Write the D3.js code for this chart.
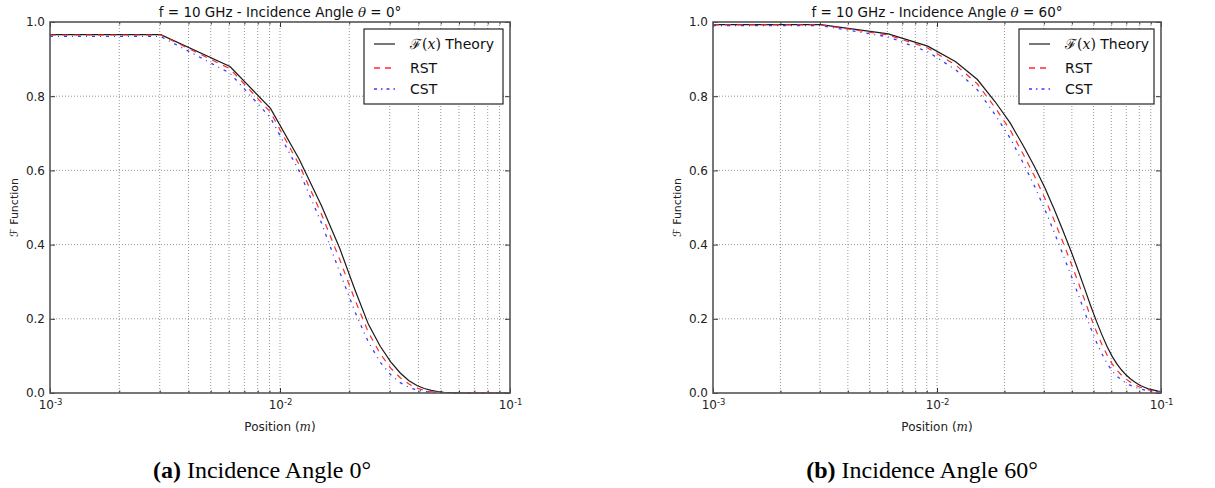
<!DOCTYPE html>
<html><head><meta charset="utf-8">
<script src="https://cdn.jsdelivr.net/npm/d3@7"></script>
<style>body{margin:0;background:#fff} svg{display:block}</style></head>
<body>
<svg id="c" width="1215" height="488"></svg>
<script>
// ---------------- data ----------------
const positions = [0.001, 0.00303, 0.00606, 0.00909, 0.01212, 0.01515, 0.01818, 0.02121, 0.02424, 0.02727, 0.0303, 0.03333, 0.03636, 0.03939, 0.04242, 0.04545, 0.04848, 0.05152, 0.05455, 0.05758, 0.06061, 0.06364, 0.06667, 0.0697, 0.07273, 0.07576, 0.07879, 0.08182, 0.08485, 0.08788, 0.09091, 0.09394, 0.09697, 0.1];

const theory0 = [0.966, 0.966, 0.880, 0.767, 0.630, 0.505, 0.390, 0.277, 0.185, 0.126, 0.084, 0.054, 0.033, 0.020, 0.012, 0.007, 0.004, 0.002, 0.001, 0.001, 0, 0, 0, 0, 0, 0, 0, 0, 0, 0, 0, 0, 0, 0];
const rst0    = [0.965, 0.965, 0.874, 0.757, 0.615, 0.482, 0.360, 0.250, 0.163, 0.106, 0.067, 0.041, 0.024, 0.013, 0.007, 0.004, 0.002, 0.001, 0.001, 0, 0, 0, 0, 0, 0, 0, 0, 0, 0, 0, 0, 0, 0, 0];
const cst0    = [0.961, 0.961, 0.862, 0.742, 0.598, 0.458, 0.326, 0.218, 0.137, 0.083, 0.049, 0.028, 0.015, 0.008, 0.004, 0.002, 0.001, 0.001, 0, 0, 0, 0, 0, 0, 0, 0, 0, 0, 0, 0, 0, 0, 0, 0];

const theory60 = [0.993, 0.993, 0.968, 0.935, 0.893, 0.845, 0.785, 0.728, 0.667, 0.610, 0.553, 0.496, 0.440, 0.387, 0.335, 0.284, 0.236, 0.193, 0.156, 0.124, 0.098, 0.078, 0.062, 0.049, 0.039, 0.031, 0.024, 0.019, 0.015, 0.011, 0.009, 0.007, 0.005, 0.004];
const rst60    = [0.992, 0.992, 0.965, 0.930, 0.884, 0.833, 0.769, 0.709, 0.644, 0.584, 0.525, 0.466, 0.409, 0.355, 0.303, 0.253, 0.206, 0.165, 0.130, 0.101, 0.078, 0.061, 0.048, 0.038, 0.030, 0.024, 0.018, 0.014, 0.011, 0.008, 0.007, 0.005, 0.004, 0.003];
const cst60    = [0.990, 0.990, 0.960, 0.920, 0.871, 0.817, 0.750, 0.687, 0.620, 0.557, 0.495, 0.434, 0.376, 0.322, 0.270, 0.221, 0.176, 0.137, 0.105, 0.079, 0.059, 0.045, 0.035, 0.027, 0.021, 0.017, 0.013, 0.010, 0.008, 0.006, 0.005, 0.004, 0.003, 0.002];

const xMajor = [0.001, 0.01, 0.1];
const xMajorExp = ["-3", "-2", "-1"];
const yTicks = [0, 0.2, 0.4, 0.6, 0.8, 1.0];
const seriesNames = ["Theory", "RST", "CST"];
const titles = ["0°", "60°"];
const captions = [["(a)", " Incidence Angle 0°"], ["(b)", " Incidence Angle 60°"]];

// ---------------- drawing ----------------
const svg = d3.select('#c');
const SANS = "'DejaVu Sans', sans-serif";
const SERIF = "'Liberation Serif', 'DejaVu Serif', serif";
const TOP = 22, BOTTOM = 393;

const styles = [
  {stroke: '#1a1a1a', dash: null, width: 1.2},
  {stroke: '#ff2a2a', dash: '6,6', width: 1.2},
  {stroke: '#3a3aff', dash: '3,5,1,5', width: 1.3}
];

function panel(cfg) {
  const x = d3.scaleLog().domain([1e-3, 1e-1]).range([cfg.L, cfg.R]);
  const y = d3.scaleLinear().domain([0, 1]).range([BOTTOM, TOP]);
  const g = svg.append('g');

  const minor = [];
  [1e-3, 1e-2].forEach(e => { for (let k = 2; k <= 9; k++) minor.push(k * e); });
  const gridX = minor.concat([0.01]);

  // grid
  g.append('g').selectAll('line').data(gridX).join('line')
    .attr('x1', d => x(d)).attr('x2', d => x(d))
    .attr('y1', TOP).attr('y2', BOTTOM)
    .attr('stroke', '#8a8a8a').attr('stroke-width', 0.9).attr('stroke-dasharray', '1,2');
  g.append('g').selectAll('line').data(yTicks.slice(1, -1)).join('line')
    .attr('x1', cfg.L).attr('x2', cfg.R)
    .attr('y1', d => y(d)).attr('y2', d => y(d))
    .attr('stroke', '#8a8a8a').attr('stroke-width', 0.9).attr('stroke-dasharray', '1,2');

  // lines
  const sets = [cfg.t, cfg.r, cfg.c];
  sets.forEach((vals, i) => {
    const line = d3.line().x((d, j) => x(positions[j])).y(d => y(d));
    g.append('path').datum(vals).attr('d', line)
      .attr('fill', 'none').attr('stroke', styles[i].stroke)
      .attr('stroke-width', styles[i].width)
      .attr('stroke-dasharray', styles[i].dash);
  });

  function styleAxis(sel) {
    sel.select('.domain').remove();
    sel.selectAll('.tick line').attr('stroke', '#333');
    sel.selectAll('text').attr('font-family', SANS).attr('font-size', 12).attr('fill', '#222');
  }
  const bottom = g.append('g').attr('transform', `translate(0,${BOTTOM})`)
    .call(d3.axisBottom(x).tickValues(xMajor).tickSize(-5).tickPadding(7).tickFormat(() => ''))
    .call(styleAxis);
  bottom.selectAll('.tick text').each(function(d, i) {
    const t = d3.select(this);
    t.text('');
    t.append('tspan').text('10');
    t.append('tspan').attr('dy', '-0.45em').attr('font-size', 8.5).text(xMajorExp[i]);
  });
  g.append('g').attr('transform', `translate(0,${BOTTOM})`)
    .call(d3.axisBottom(x).tickValues(minor).tickSize(-2.5).tickFormat(() => '')).call(styleAxis);
  g.append('g').attr('transform', `translate(0,${TOP})`)
    .call(d3.axisTop(x).tickValues(xMajor).tickSize(-5).tickFormat(() => '')).call(styleAxis);
  g.append('g').attr('transform', `translate(0,${TOP})`)
    .call(d3.axisTop(x).tickValues(minor).tickSize(-2.5).tickFormat(() => '')).call(styleAxis);
  g.append('g').attr('transform', `translate(${cfg.L},0)`)
    .call(d3.axisLeft(y).tickValues(yTicks).tickSize(-5).tickPadding(5).tickFormat(d3.format('.1f')))
    .call(styleAxis);
  g.append('g').attr('transform', `translate(${cfg.R},0)`)
    .call(d3.axisRight(y).tickValues(yTicks).tickSize(-5).tickFormat(() => '')).call(styleAxis);

  // frame
  g.append('rect').attr('x', cfg.L).attr('y', TOP).attr('width', cfg.R - cfg.L).attr('height', BOTTOM - TOP)
    .attr('fill', 'none').attr('stroke', '#555').attr('stroke-width', 1.6);

  // title
  const cx = (cfg.L + cfg.R) / 2;
  const tt = g.append('text').attr('x', cx).attr('y', 16.5).attr('text-anchor', 'middle')
    .attr('font-family', SANS).attr('font-size', 13.5).attr('fill', '#111');
  tt.append('tspan').text('f = 10 GHz - Incidence Angle ');
  tt.append('tspan').attr('font-family', "'DejaVu Serif', serif").attr('font-style', 'italic').text('θ');
  tt.append('tspan').text(' = ' + cfg.title);

  // axis labels
  const xl = g.append('text').attr('x', cx).attr('y', 431).attr('text-anchor', 'middle')
    .attr('font-family', SANS).attr('font-size', 12).attr('fill', '#222');
  xl.append('tspan').text('Position (');
  xl.append('tspan').attr('font-family', "'DejaVu Serif', serif").attr('font-style', 'italic').text('m');
  xl.append('tspan').text(')');

  g.append('text').attr('transform', `translate(${cfg.L - 32},${(TOP + BOTTOM) / 2}) rotate(-90)`)
    .attr('text-anchor', 'middle').attr('font-family', SANS).attr('font-size', 11).attr('fill', '#222')
    .text('ℱ Function');

  // legend
  const lw = cfg.legW, lx = cfg.R - 7 - lw, ly = 29;
  const lg = g.append('g');
  lg.append('rect').attr('x', lx).attr('y', ly).attr('width', lw).attr('height', 75)
    .attr('fill', '#fff').attr('stroke', '#111').attr('stroke-width', 1.1);
  const rowY = [15, 39, 60];
  seriesNames.forEach((name, i) => {
    lg.append('line').attr('x1', lx + 10).attr('x2', lx + 31)
      .attr('y1', ly + rowY[i]).attr('y2', ly + rowY[i])
      .attr('stroke', i === 0 ? '#555' : styles[i].stroke).attr('stroke-width', i === 0 ? 1.6 : 1.3)
      .attr('stroke-dasharray', i === 1 ? '6,5' : (i === 2 ? '3,4,1.5,4' : null));
    const t = lg.append('text').attr('x', lx + 46).attr('y', ly + rowY[i] + 5)
      .attr('font-family', SANS).attr('font-size', 14).attr('fill', '#111');
    if (i === 0) {
      t.append('tspan').attr('font-family', "'DejaVu Serif', serif").text('ℱ(');
      t.append('tspan').attr('font-family', "'DejaVu Serif', serif").attr('font-style', 'italic').text('x');
      t.append('tspan').attr('font-family', "'DejaVu Serif', serif").text(')');
      t.append('tspan').text(' ' + name);
    } else {
      t.text(name);
    }
  });

  // caption
  const cap = svg.append('text').attr('x', cfg.capX).attr('y', 478).attr('text-anchor', 'middle')
    .attr('font-family', SERIF).attr('font-size', 24).attr('fill', '#000');
  cap.append('tspan').attr('font-weight', 'bold').text(cfg.caption[0]);
  cap.append('tspan').text(cfg.caption[1]);
}

panel({L: 50, R: 510, t: theory0, r: rst0, c: cst0, title: titles[0], legW: 139, caption: captions[0], capX: 262});
panel({L: 713, R: 1161, t: theory60, r: rst60, c: cst60, title: titles[1], legW: 135, caption: captions[1], capX: 922});
</script>
</body></html>
